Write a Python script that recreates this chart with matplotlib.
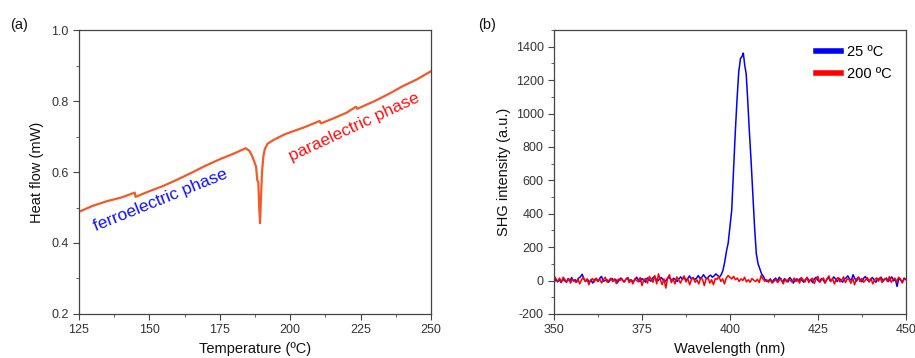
import numpy as np
import matplotlib
matplotlib.use("Agg")
import matplotlib.pyplot as plt
from matplotlib.ticker import MultipleLocator

plt.rcParams['font.family'] = ['Liberation Sans', 'DejaVu Sans']
plt.rcParams['axes.unicode_minus'] = False

# ---- (a) DSC data ----
temp = [125, 130, 135, 140, 144.8, 145.1, 150, 155, 160, 165, 170, 175, 180, 184.2,
        185.5, 186.5, 187.3, 187.9, 188.3, 188.7, 189.0, 189.3, 189.6, 190.0, 190.5,
        191.0, 192.0, 194.0, 196.0, 198.0, 200.0, 205.0, 210.5, 210.9, 215.0, 220.0,
        223.4, 223.8, 230.0, 235.0, 240.0, 245.0, 250.0]
heat = [0.488, 0.505, 0.518, 0.528, 0.542, 0.530, 0.546, 0.561, 0.579, 0.598, 0.618,
        0.636, 0.652, 0.667, 0.660, 0.645, 0.628, 0.615, 0.578, 0.570, 0.500, 0.456,
        0.520, 0.600, 0.645, 0.665, 0.680, 0.690, 0.698, 0.706, 0.712, 0.726, 0.744,
        0.737, 0.750, 0.767, 0.784, 0.778, 0.800, 0.820, 0.842, 0.861, 0.884]

# ---- (b) SHG data ----
blue_left = [-15, 10, -8, 5, -12, 8, 0, -10, 12, -5, 18, -3, 5, -8, 15, 22, 38, 10, -5, 8,
             -10, 2, -15, 6, 10, -6, 14, 25, -4, 0, 6, -10, 4, 12, -2, 8, -14, 6, 15, 2,
             -8, 10, 18, -5, 4, -12, 8, 20, 2, -6, 12, 4, -10, 16, 6, -4, 14, 24, 8, -2,
             10, 18, 4, -8, 6, 20, 12, 2, 14, 6, -6, 10, 22, 8, 16, 4, 12, 28, 10, 18,
             6, 14, 30, 12, 20, 35, 18, 10, 25, 32, 20, 28, 40, 30]
blue_peak_wl = [397.0, 397.5, 398.0, 398.5, 399.0, 399.5, 400.0, 400.5, 401.0, 401.5,
                402.0, 402.5, 403.0, 403.5, 403.8, 404.2, 404.6, 405.0, 405.5, 406.0,
                406.5, 407.0, 407.5, 408.0, 408.5, 409.0, 409.5, 410.0, 410.5, 411.0]
blue_peak_val = [20, 35, 60, 110, 175, 225, 320, 420, 650, 880, 1080, 1250, 1330, 1345,
                 1362, 1290, 1240, 1100, 900, 720, 520, 320, 160, 100, 70, 40, 25, 5, -5, 0]
blue_right = [10, -10, 5, 15, -5, 20, 8, -12, 12, 2, -8, 18, 6, -15, 4, 10, -6, 14, 0, -10,
              8, 16, -4, 6, -12, 10, 20, 2, -8, 12, 4, -14, 8, 18, -2, 6, 22, 10, -6, 14,
              4, -10, 8, 16, 28, 10, 2, 35, 12, -4, 20, 8, -8, 14, 24, 6, -6, 10, 18, 2,
              -10, 12, 6, 20, -4, 8, 15, -6, 10, 22, -2, 8, -35, 12, 4, -10, 15, 5]
red_vals = [30, 10, -5, 15, -10, 20, 5, -8, 12, -15, 8, 0, -12, 10, -20, 5, 18, -6, 10, -25,
            4, 12, -8, 15, -4, 8, -14, 6, 20, -10, 2, 14, -6, 10, -18, 8, 0, 12, -8, 4,
            16, -12, 6, -20, 10, 2, -8, 18, -30, 6, 12, -15, 25, 8, -10, 30, -20, 40, 5, -25,
            10, -45, 15, 35, -12, 8, -20, 22, 4, -15, 10, 28, -8, 12, -25, 6, 18, -10, 4, -20,
            14, 8, -30, 10, 20, -15, 5, -25, 12, 8, 25, -5, 10, -20, 15, 30, 20, 10, 25, 5,
            15, -5, 10, 0, 20, -8, 5, -10, 12, 2, -6, 8, -12, 30, 10, -4, 6, -10, 4, -15,
            -5, 8, -12, 2, 10, -20, 6, -8, 12, 0, -10, 15, -6, 10, -15, 18, 4, -8, 20, -12,
            6, 14, -18, 8, 25, -10, 4, 16, -14, 10, 28, -6, 12, -20, 8, 18, -8, 4, 22, -12,
            10, 6, -16, 14, -25, 8, 20, -6, 12, -10, 4, 18, -8, 10, -20, 6, 16, -4, 20, -12,
            8, 12, -6, 24, -10, 5, 15, -8, 20, 10, -15, 8, 12]

blue_wl = np.concatenate([np.linspace(350, 396.5, len(blue_left)),
                          np.array(blue_peak_wl),
                          np.linspace(411.5, 450, len(blue_right))])
blue_int = np.concatenate([blue_left, blue_peak_val, blue_right])
red_wl = np.linspace(350, 450, len(red_vals))

fig = plt.figure(figsize=(9.15, 3.58), dpi=100)
ax1 = fig.add_axes([0.0863, 0.123, 0.3847, 0.793])
ax2 = fig.add_axes([0.6055, 0.123, 0.3845, 0.793])

tc = '#333333'
for ax in (ax1, ax2):
    for s in ax.spines.values():
        s.set_color('#444444')
        s.set_linewidth(0.9)
    ax.tick_params(which='both', direction='out', colors='#444444', labelcolor=tc,
                   labelsize=9, top=False, right=False)
    ax.tick_params(which='major', length=4)
    ax.tick_params(which='minor', length=2.5)

ax1.plot(temp, heat, color='#f15a29', lw=1.6)
ax1.set_xlim(125, 250)
ax1.set_ylim(0.2, 1.0)
ax1.xaxis.set_major_locator(MultipleLocator(25))
ax1.xaxis.set_minor_locator(MultipleLocator(12.5))
ax1.yaxis.set_major_locator(MultipleLocator(0.2))
ax1.yaxis.set_minor_locator(MultipleLocator(0.1))
ax1.set_xlabel('Temperature (ºC)', fontsize=10.5, color='#111111', labelpad=4)
ax1.set_ylabel('Heat flow (mW)', fontsize=10.5, color='#111111', labelpad=5)
ax1.text(130.5, 0.446, 'ferroelectric phase', color='#1010ff', fontsize=12.5,
         rotation=22, ha='left', va='center', rotation_mode='anchor')
ax1.text(199.8, 0.641, 'paraelectric phase', color='#ff1010', fontsize=12.5,
         rotation=25, ha='left', va='center', rotation_mode='anchor')
fig.text(0.011, 0.92, '(a)', fontsize=10.5, color='#111111')

l1, = ax2.plot(blue_wl, blue_int, color='#0000ff', lw=1.1, label='25 ºC')
l2, = ax2.plot(red_wl, red_vals, color='#ff0000', lw=1.1, label='200 ºC')
ax2.set_xlim(350, 450)
ax2.set_ylim(-200, 1500)
ax2.xaxis.set_major_locator(MultipleLocator(25))
ax2.xaxis.set_minor_locator(MultipleLocator(12.5))
ax2.set_yticks([-200, 0, 200, 400, 600, 800, 1000, 1200, 1400])
ax2.yaxis.set_minor_locator(MultipleLocator(100))
ax2.set_xlabel('Wavelength (nm)', fontsize=10.5, color='#111111', labelpad=4)
ax2.set_ylabel('SHG intensity (a.u.)', fontsize=10.5, color='#111111', labelpad=3)
leg = ax2.legend(loc='upper right', frameon=False, fontsize=10.5, handlelength=1.7,
                 handletextpad=0.4, labelspacing=0.6, borderaxespad=0.6)
for h in leg.get_lines():
    h.set_linewidth(4)
fig.text(0.522, 0.92, '(b)', fontsize=10.5, color='#111111')

fig.savefig('out.png', dpi=100)
